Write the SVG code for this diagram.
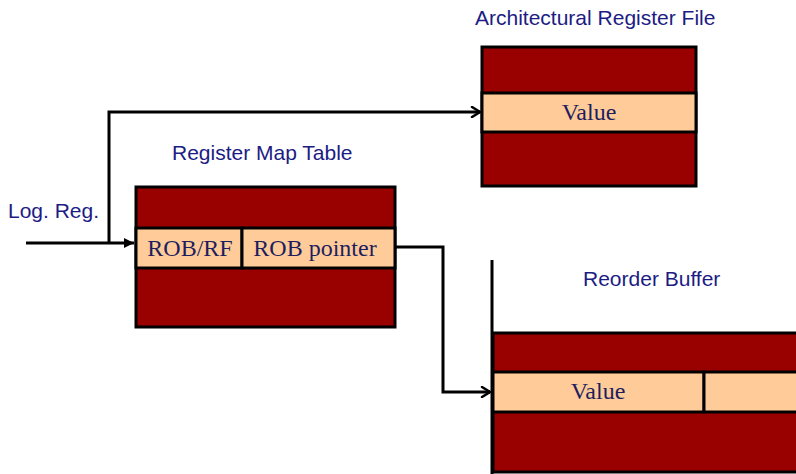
<svg xmlns="http://www.w3.org/2000/svg" width="796" height="474" viewBox="0 0 796 474">
<defs>
<style>
.title{font-family:"Liberation Sans",Arial,sans-serif;font-size:21px;fill:#1c1c84}
.cell{font-family:"Liberation Serif","Times New Roman",serif;font-size:24px;fill:#1e1e5e;text-anchor:middle}
.dark{fill:#990000;stroke:#000;stroke-width:3}
.light{fill:#ffcc99;stroke:#000;stroke-width:3}
.wire{fill:none;stroke:#000;stroke-width:3}
</style>
<marker id="open" viewBox="0 0 12 12" refX="10" refY="6" markerWidth="12" markerHeight="12" markerUnits="userSpaceOnUse" orient="auto">
<path d="M2,1 L10,6 L2,11" fill="none" stroke="#000" stroke-width="2.5" stroke-linecap="round"/>
</marker>
<marker id="solid" viewBox="0 0 10 10" refX="10" refY="5" markerWidth="10" markerHeight="10" markerUnits="userSpaceOnUse" orient="auto">
<path d="M0,0 L10,5 L0,10 Z" fill="#000"/>
</marker>
</defs>
<rect width="796" height="474" fill="#fff"/>

<g id="log-reg">
<text class="title" x="8" y="218">Log. Reg.</text>
</g>

<g id="register-map-table">
<text class="title" x="172" y="160">Register Map Table</text>
<rect class="dark" x="136" y="187" width="259" height="140"/>
<rect class="light" x="136" y="228" width="106" height="40"/>
<rect class="light" x="242" y="228" width="153" height="40"/>
<text class="cell" x="190" y="256">ROB/RF</text>
<text class="cell" x="315" y="256">ROB pointer</text>
</g>

<g id="architectural-register-file">
<text class="title" x="475" y="25">Architectural Register File</text>
<rect class="dark" x="482" y="47" width="214" height="139"/>
<rect class="light" x="482" y="93" width="214" height="39"/>
<text class="cell" x="589" y="120">Value</text>
</g>

<g id="reorder-buffer">
<text class="title" x="583" y="286">Reorder Buffer</text>
<rect class="dark" x="493" y="333" width="310" height="139"/>
<rect class="light" x="493" y="372" width="211" height="40"/>
<rect class="light" x="704" y="372" width="100" height="40"/>
<text class="cell" x="598" y="399">Value</text>
<line x1="492" y1="260" x2="492" y2="474" stroke="#000" stroke-width="3"/>
</g>

<g id="connectors">
<path class="wire" d="M26,243 L134,243" marker-end="url(#solid)"/>
<path class="wire" d="M109,243 L109,112 L480,112" marker-end="url(#open)"/>
<path class="wire" d="M396,247 L443,247 L443,392 L490,392" marker-end="url(#open)"/>
</g>
</svg>
